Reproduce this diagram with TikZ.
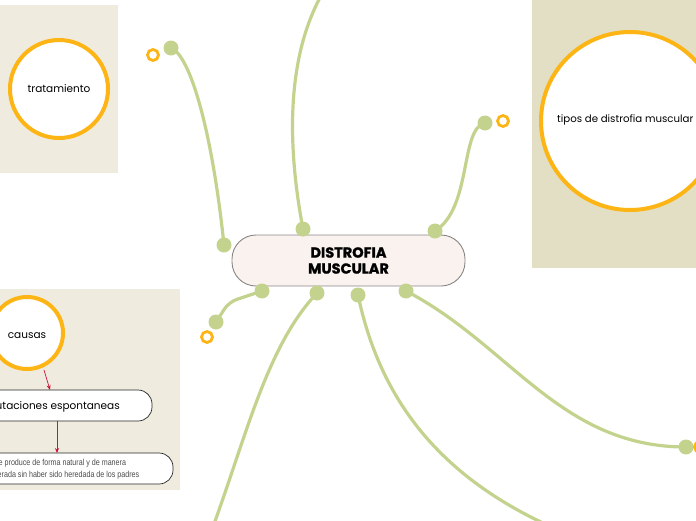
\documentclass[tikz,border=0pt]{standalone}
\usepackage{fontspec}
\setmainfont{Poppins}
\newfontfamily\condfont{Liberation Sans}[FakeStretch=0.82]
\newfontfamily\headfont{Poppins}[BoldFeatures={FakeBold=1.2}]
\usetikzlibrary{arrows.meta}
\definecolor{panelA}{HTML}{EFECDF}
\definecolor{panelB}{HTML}{E3DFC4}
\definecolor{ring}{HTML}{FDB515}
\definecolor{branch}{HTML}{C3D38E}
\definecolor{mainfill}{HTML}{FAF2EF}
\definecolor{mainline}{HTML}{8A8585}
\definecolor{arrowred}{HTML}{D0103A}
\tikzset{
  bigcircle/.style={circle,draw=ring,line width=4pt,fill=white,font=\fontsize{10.5}{12}\selectfont},
  branchline/.style={draw=branch,line width=3.2pt,line cap=round},
  knob/.style={circle,fill=branch,inner sep=0pt,minimum size=15pt},
  openring/.style={circle,draw=ring,line width=2.8pt,fill=white,inner sep=0pt,minimum size=11pt},
  subbox/.style={draw=black!85,line width=0.7pt,fill=white,rounded corners=14pt},
  redarrow/.style={draw=arrowred,line width=0.7pt,-{Stealth[length=5pt,width=4pt]}}
}
\begin{document}
\begin{tikzpicture}[x=1pt,y=-1pt]
\useasboundingbox (0,0) rectangle (696,520);
% panels
\fill[panelA] (0,5) rectangle (118,173);
\fill[panelB] (532,0) rectangle (696,268);
\fill[panelA] (0,289) rectangle (180,490);
% panel circles
\node[bigcircle,minimum size=98pt] (trat) at (59,89) {tratamiento};
\node[bigcircle,minimum size=178pt] (tipos) at (630,121) {};
\node[font=\fontsize{10.2}{12}\selectfont,anchor=west,inner sep=0pt] (tiposlbl) at (557,120) {tipos de distrofia muscular};
\node[bigcircle,minimum size=72pt] (caus) at (27,333) {};
\node[font=\fontsize{10.5}{12}\selectfont] (causlbl) at (27,336) {causas};
% sub boxes
\draw[subbox] (-40,390) rectangle (152,421);
\node[anchor=east,font=\fontsize{10.5}{12}\selectfont,inner sep=0pt] (mut) at (120,407) {mutaciones espontaneas};
\coordinate (mutTop) at (50,390);
\coordinate (mutBot) at (57,421);
\draw[subbox] (-40,453) rectangle (173,484);
\node[align=center,text=black!70,font=\condfont\fontsize{8.7}{12}\selectfont] (desc) at (60,469) {Se produce de forma natural y de manera\\inesperada sin haber sido heredada de los padres};
\coordinate (descTop) at (57,453);
\coordinate (causOut) at (44,370);
\draw[redarrow] (causOut) -- (mutTop);
\draw[redarrow] (mutBot) -- (descTop);
% branch end points
\coordinate (k1) at (224,245);
\coordinate (e1) at (171,48);
\coordinate (k2) at (303,229);
\coordinate (e2) at (322,-6);
\coordinate (k3) at (435,231);
\coordinate (e3) at (485,123);
\coordinate (k4) at (262,291);
\coordinate (e4) at (216,322);
\coordinate (k5) at (317,293);
\coordinate (e5) at (214,524);
\coordinate (k6) at (358,295);
\coordinate (e6) at (545,524);
\coordinate (k7) at (406,291);
\coordinate (e7) at (686,447);
% branches
\draw[branchline] (k1) .. controls (212,130) and (190,55) .. (e1);
\draw[branchline] (k2) .. controls (288,150) and (285,60) .. (e2);
\draw[branchline] (k3) .. controls (472,208) and (460,128) .. (e3);
\draw[branchline,rounded corners=8pt] (k4) -- (229,302) -- (e4);
\draw[branchline] (k5) .. controls (268,345) and (248,430) .. (e5);
\draw[branchline] (k6) .. controls (378,390) and (430,470) .. (e6);
\draw[branchline] (k7) .. controls (510,345) and (560,447) .. (e7);
% main node
\node[draw=mainline,line width=0.9pt,fill=mainfill,rounded corners=24pt,minimum width=233pt,minimum height=51pt,align=center,font=\headfont\bfseries\fontsize{14.5}{16}\selectfont,text=black] (main) at (348.5,260.5) {DISTROFIA\\MUSCULAR};
% knobs
\node[knob] (n1) at (k1) {};
\node[knob] (n1b) at (e1) {};
\node[openring] (r1) at (153,55) {};
\node[knob] (n2) at (k2) {};
\node[knob] (n3) at (k3) {};
\node[knob] (n3b) at (e3) {};
\node[openring] (r3) at (503,121) {};
\node[knob] (n4) at (k4) {};
\node[knob] (n4b) at (e4) {};
\node[openring] (r4) at (207,337) {};
\node[knob] (n5) at (k5) {};
\node[knob] (n6) at (k6) {};
\node[knob] (n7) at (k7) {};
\node[knob] (n7b) at (e7) {};
\node[openring] (r7) at (700,447) {};
\end{tikzpicture}
\end{document}
